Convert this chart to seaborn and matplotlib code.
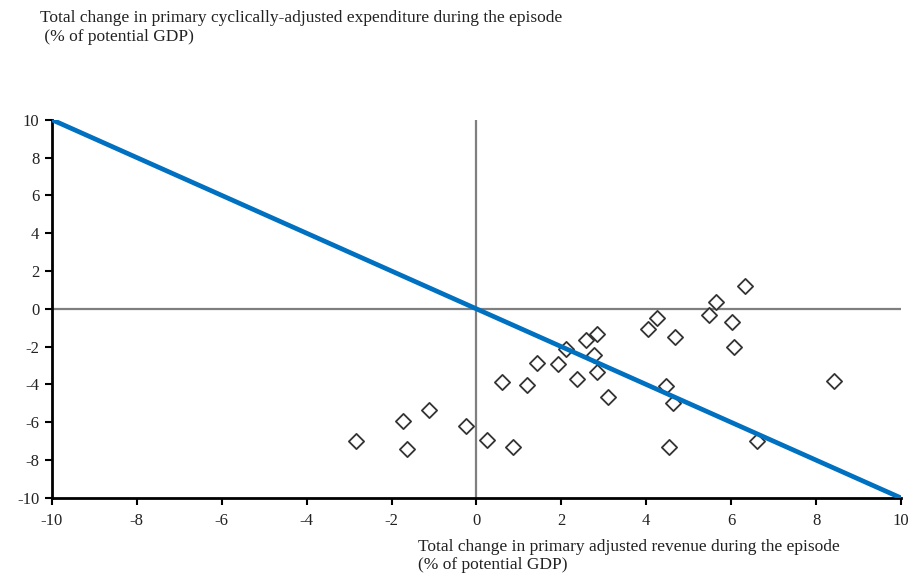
import numpy as np
import pandas as pd
import matplotlib
matplotlib.use("Agg")
import matplotlib.pyplot as plt
import seaborn as sns

# Data
revenue_change = [-2.83, -1.72, -1.63, -1.11, -0.24, 0.24, 0.85, 0.59, 1.18, 1.42,
                  1.93, 2.10, 2.36, 2.57, 2.83, 2.78, 2.83, 3.11, 4.03, 4.25,
                  4.67, 4.46, 4.62, 4.53, 5.47, 5.64, 6.01, 6.06, 6.32, 6.60, 8.42]
expenditure_change = [-7.00, -5.94, -7.41, -5.35, -6.19, -6.93, -7.30, -3.87, -4.02, -2.86,
                      -2.91, -2.12, -3.71, -1.64, -1.33, -2.44, -3.34, -4.66, -1.06, -0.48,
                      -1.48, -4.08, -4.98, -7.30, -0.32, 0.37, -0.69, -2.01, 1.21, -6.99, -3.81]
line_x = [-10, 10]
line_y = [10, -10]
ticks = [-10, -8, -6, -4, -2, 0, 2, 4, 6, 8, 10]

df = pd.DataFrame({"revenue": revenue_change, "expenditure": expenditure_change})
line_df = pd.DataFrame({"x": line_x, "y": line_y})

sns.set_theme(style="white")
plt.rcParams['font.family'] = ['Liberation Serif', 'DejaVu Serif']
plt.rcParams['axes.unicode_minus'] = False

fig = plt.figure(figsize=(9.11, 5.73), dpi=100)
ax = fig.add_axes([0.057, 0.131, 0.932, 0.660])

ax.axhline(0, color="#7f7f7f", lw=1.6, zorder=1)
ax.axvline(0, color="#7f7f7f", lw=1.6, zorder=1)

sns.scatterplot(data=df, x="revenue", y="expenditure", marker="D", s=60,
                facecolor="white", edgecolor="#333333", linewidth=1.3, ax=ax, zorder=3)
sns.lineplot(data=line_df, x="x", y="y", color="#0070C0", lw=3.4, ax=ax, zorder=4)

ax.set_xlim(-10, 10)
ax.set_ylim(-10, 10)
ax.set_xticks(ticks)
ax.set_yticks(ticks)
ax.set_xlabel("")
ax.set_ylabel("")
for s in ["top", "right"]:
    ax.spines[s].set_visible(False)
for s in ["left", "bottom"]:
    ax.spines[s].set_color("black")
    ax.spines[s].set_linewidth(2)
ax.tick_params(axis="both", direction="out", length=5, width=1.5, color="black",
               labelsize=12, labelcolor="#222222", bottom=True, left=True)
ax.tick_params(axis="x", pad=6)
ax.tick_params(axis="y", pad=4)

fig.text(0.044, 0.982, "Total change in primary cyclically-adjusted expenditure during the episode\n (% of potential GDP)",
         ha="left", va="top", fontsize=12.5, color="#222222", linespacing=1.2)
fig.text(0.459, 0.060, "Total change in primary adjusted revenue during the episode\n(% of potential GDP)",
         ha="left", va="top", fontsize=12.5, color="#222222", linespacing=1.2)

fig.savefig("out.png", dpi=100)
